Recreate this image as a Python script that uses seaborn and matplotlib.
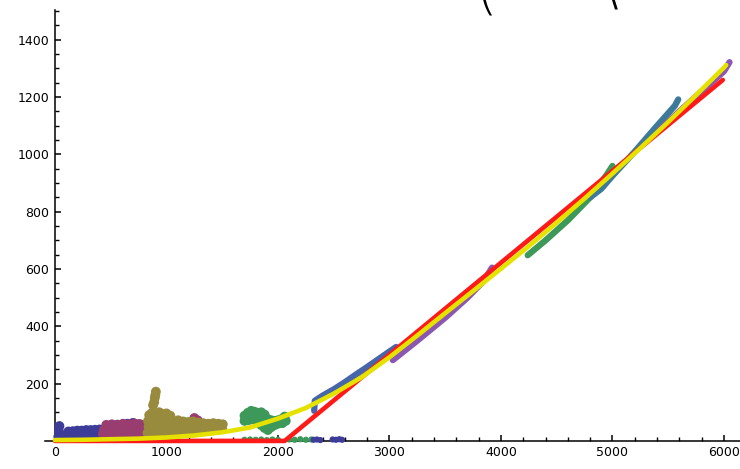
import matplotlib
matplotlib.use("Agg")
import matplotlib.pyplot as plt
from matplotlib.ticker import FixedLocator
import seaborn as sns
import pandas as pd

# ---------------- data ----------------
blue_x = [30, 35, 40, 50, 70, 90,
          110, 150, 190, 230, 270, 310, 350, 390, 430, 470, 510, 550, 590, 630, 670, 710, 750,
          120, 160, 200, 240, 280, 320, 360, 400, 440, 480, 520, 560, 600, 640, 680, 720, 760,
          650, 700, 740]
blue_y = [15, 35, 52, 20, 12, 15,
          20, 21, 22, 22, 24, 24, 25, 26, 26, 27, 28, 28, 30, 30, 31, 32, 33,
          33, 34, 36, 36, 38, 38, 39, 40, 40, 42, 42, 43, 44, 46, 48, 50, 46,
          60, 63, 58]

magenta_x = [430, 470, 510, 550, 590, 630, 670, 710, 750, 790, 830,
             440, 480, 520, 560, 600, 640, 680, 720, 760, 800,
             460, 510, 560, 610, 660, 710, 760, 810,
             930, 980, 1030, 1080, 1250, 1280, 1230]
magenta_y = [24, 22, 25, 23, 26, 24, 25, 27, 24, 26, 28,
             40, 42, 40, 43, 41, 44, 42, 45, 43, 44,
             56, 58, 57, 60, 58, 61, 59, 57,
             30, 25, 35, 30, 80, 72, 62]

olive_x = [830, 875, 920, 965, 1010, 1055, 1100, 1145, 1190, 1235, 1280, 1325, 1370, 1415, 1460, 1500,
           840, 885, 930, 975, 1020, 1065, 1110, 1155, 1200, 1245, 1290, 1335, 1380, 1425, 1470, 1505,
           835, 880, 925, 970, 1015, 1060, 1105, 1150, 1195, 1240, 1285, 1330, 1375, 1420, 1465,
           845, 870, 900, 935, 965, 1000, 1035,
           880, 890, 900, 905, 895]
olive_y = [28, 30, 26, 32, 30, 34, 30, 32, 34, 32, 36, 34, 36, 38, 40, 42,
           50, 48, 52, 50, 48, 52, 50, 52, 50, 54, 52, 54, 55, 58, 56, 58,
           70, 72, 68, 74, 72, 70, 72, 68, 66, 68, 64, 62, 60, 62, 60,
           90, 98, 92, 100, 94, 96, 88,
           125, 135, 160, 172, 150]

green_x = [1700, 1730, 1760, 1790, 1820, 1850, 1880,
           1700, 1730, 1760, 1790, 1820, 1850, 1880, 1910, 1940, 1970, 2000, 2030, 2060,
           1850, 1880, 1910, 1940, 1970, 2000, 2040, 2070]
green_y = [88, 98, 105, 102, 98, 100, 92,
           70, 72, 75, 74, 78, 80, 78, 76, 72, 70, 72, 76, 85,
           55, 45, 38, 48, 55, 60, 62, 70]

green0_x = [1700, 1750, 1800, 1850, 1900, 1950, 2000, 2100, 2150, 2200, 2250, 2300]
green0_y = [4, 5, 4, 5, 3, 5, 4, 5, 4, 6, 4, 5]

blue0_x = [2320, 2350, 2380, 2490, 2520, 2550, 2575]
blue0_y = [4, 5, 3, 5, 4, 6, 4]

# segments lying along the fitted curve
seg_blue_x = [2325, 2330, 2400, 2500, 2600, 2700, 2800, 2900, 3000, 3060]
seg_blue_y = [105, 140, 158, 180, 205, 232, 258, 285, 312, 328]

seg_purple1_x = [3030, 3250, 3500, 3700, 3850, 3920]
seg_purple1_y = [282, 350, 430, 500, 560, 605]

seg_green_x = [4240, 4400, 4600, 4800, 4950, 5000]
seg_green_y = [648, 700, 770, 850, 930, 960]

seg_teal_x = [4800, 4900, 5000, 5200, 5400, 5560, 5590]
seg_teal_y = [850, 880, 925, 1010, 1100, 1170, 1192]

seg_purple2_x = [5420, 5600, 5800, 6000, 6050]
seg_purple2_y = [1085, 1150, 1220, 1290, 1322]

# fitted lines
red_x = [0, 2060, 5990]
red_y = [0, 0, 1260]

yellow_x = [0, 250, 500, 750, 1000, 1250, 1500, 1750, 2000, 2250, 2500, 2750, 3000, 3250, 3500,
            3750, 4000, 4250, 4500, 4750, 5000, 5250, 5500, 5750, 6000, 6020]
yellow_y = [3, 4, 6, 8, 12, 19, 30, 47, 78, 115, 165, 222, 292, 368, 446,
            523, 601, 680, 762, 846, 933, 1022, 1113, 1207, 1303, 1312]

x_ticks = [0, 1000, 2000, 3000, 4000, 5000, 6000]
y_ticks = [200, 400, 600, 800, 1000, 1200, 1400]
x_minor = [v for v in range(200, 6200, 200) if v % 1000]
y_minor = [v for v in range(50, 1550, 50) if v % 200]

# ---------------- colours ----------------
C_BLUE = "#3d3d99"
C_MAGENTA = "#993d70"
C_OLIVE = "#998b3d"
C_GREEN = "#3d995a"
C_PURPLE = "#8b57b0"
C_TEAL = "#3d7a99"
C_SEGBLUE = "#4666aa"
C_RED = "#ff1a1a"
C_YELLOW = "#e6e200"

sns.set_style("white")
plt.rcParams["font.family"] = ["DejaVu Sans"]

fig = plt.figure(figsize=(7.4, 4.69), dpi=100)
ax = fig.add_axes([0, 0, 1, 1])
ax.set_facecolor("white")

def scat(xs, ys, color, s=50):
    df = pd.DataFrame({"x": xs, "y": ys})
    sns.scatterplot(data=df, x="x", y="y", color=color, s=s, linewidth=0,
                    edgecolor="none", ax=ax, zorder=2, legend=False)

def line(xs, ys, color, lw, z):
    df = pd.DataFrame({"x": xs, "y": ys})
    sns.lineplot(data=df, x="x", y="y", color=color, linewidth=lw, ax=ax,
                 zorder=z, legend=False, sort=False, estimator=None)
    ax.lines[-1].set_solid_capstyle("round")

scat(blue_x, blue_y, C_BLUE)
scat(magenta_x, magenta_y, C_MAGENTA)
scat(olive_x, olive_y, C_OLIVE)
scat(green_x, green_y, C_GREEN)
scat(green0_x, green0_y, C_GREEN, s=20)
scat(blue0_x, blue0_y, C_BLUE, s=20)

line(seg_blue_x, seg_blue_y, C_SEGBLUE, 4.5, 3)
line(seg_purple1_x, seg_purple1_y, C_PURPLE, 4.5, 3)
line(seg_green_x, seg_green_y, C_GREEN, 4.5, 3)
line(seg_teal_x, seg_teal_y, C_TEAL, 4.5, 3)
line(seg_purple2_x, seg_purple2_y, C_PURPLE, 4.5, 3)

line(red_x, red_y, C_RED, 3.3, 4)
line(yellow_x, yellow_y, C_YELLOW, 3.3, 5)

# axes in Mathematica style
ax.set_xlim(-493, 6144)
ax.set_ylim(-98, 1539)
for side in ["top", "right"]:
    ax.spines[side].set_visible(False)
ax.spines["left"].set_position(("data", 0))
ax.spines["bottom"].set_position(("data", 0))
ax.spines["left"].set_bounds(0, 1505)
ax.spines["bottom"].set_bounds(-90, 6144)
for side in ["left", "bottom"]:
    ax.spines[side].set_linewidth(1.1)
    ax.spines[side].set_color("black")
    ax.spines[side].set_zorder(1)

ax.xaxis.set_major_locator(FixedLocator(x_ticks))
ax.yaxis.set_major_locator(FixedLocator(y_ticks))
ax.xaxis.set_minor_locator(FixedLocator(x_minor))
ax.yaxis.set_minor_locator(FixedLocator(y_minor))
ax.set_xticklabels([str(v) for v in x_ticks])
ax.set_yticklabels([str(v) for v in y_ticks])
ax.tick_params(axis="both", which="major", direction="in", length=4.5, width=1.1,
               labelsize=9, colors="black", pad=4)
ax.tick_params(axis="both", which="minor", direction="in", length=2.8, width=1.0, colors="black")
ax.tick_params(axis="x", which="both", bottom=True, top=False)
ax.tick_params(axis="y", which="both", left=True, right=False)
ax.set_xlabel("")
ax.set_ylabel("")
ax.grid(False)

# fragments of text cut by the top edge (as in the reference)
fig.text(487 / 740, 1 - 20 / 469, "(", fontsize=40, fontweight="light",
         ha="center", va="bottom", color="black")
fig.text(609 / 740, 1 - 16 / 469, "\\", fontsize=40, fontweight="light",
         ha="center", va="bottom", color="black")

fig.savefig("out.png", dpi=100, facecolor="white")
